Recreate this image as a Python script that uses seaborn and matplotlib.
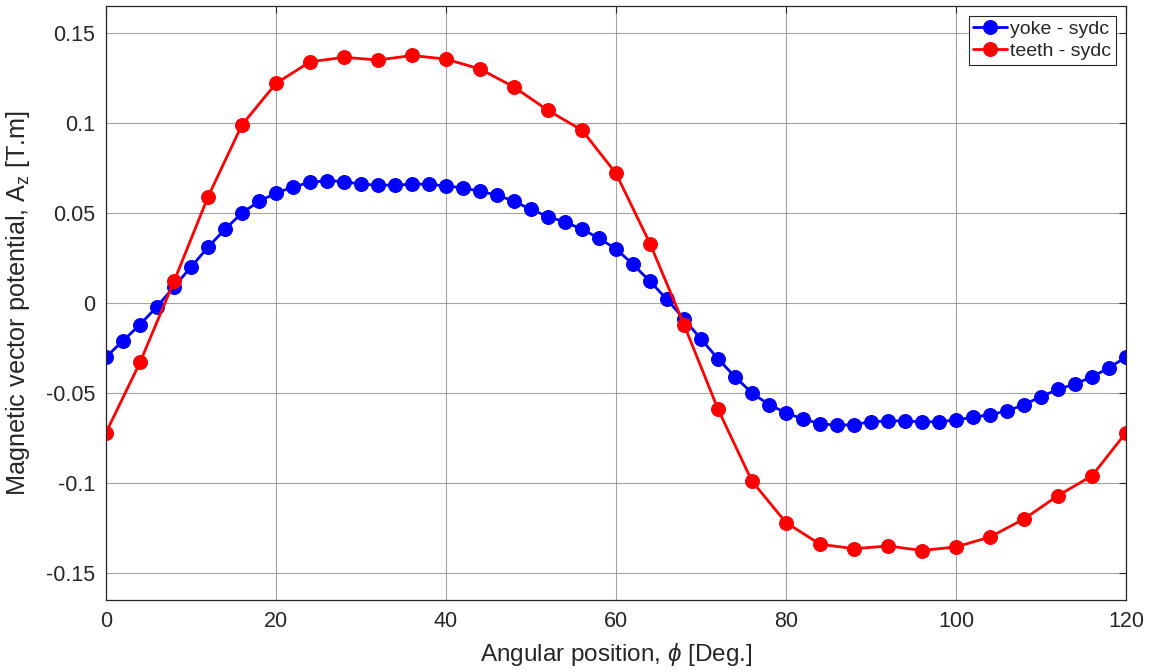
import numpy as np
import pandas as pd
import matplotlib
matplotlib.use("Agg")
import matplotlib.pyplot as plt
import seaborn as sns
from matplotlib.ticker import FormatStrFormatter

yoke_x = list(range(0, 121, 2))
yoke_y = [-0.030, -0.021, -0.012, -0.002, 0.009, 0.020, 0.031, 0.041, 0.050, 0.0565,
          0.061, 0.0645, 0.067, 0.068, 0.0675, 0.066, 0.0655, 0.0655, 0.066, 0.066,
          0.065, 0.064, 0.062, 0.060, 0.0565, 0.052, 0.048, 0.045, 0.041, 0.036,
          0.030, 0.0215, 0.012, 0.002, -0.009, -0.020, -0.031, -0.041, -0.050, -0.0565,
          -0.061, -0.0645, -0.067, -0.068, -0.0675, -0.066, -0.0655, -0.0655, -0.066, -0.066,
          -0.065, -0.0635, -0.062, -0.060, -0.0565, -0.052, -0.048, -0.045, -0.041, -0.036,
          -0.030]

teeth_x = list(range(0, 121, 4))
teeth_y = [-0.072, -0.033, 0.012, 0.059, 0.099, 0.122, 0.134, 0.1365, 0.135, 0.1375,
           0.1355, 0.130, 0.120, 0.107, 0.096, 0.072, 0.033, -0.012, -0.059, -0.099,
           -0.122, -0.134, -0.1365, -0.135, -0.1375, -0.1355, -0.130, -0.120, -0.107, -0.096,
           -0.072]

x_ticks = [0, 20, 40, 60, 80, 100, 120]
y_ticks = [-0.15, -0.1, -0.05, 0, 0.05, 0.1, 0.15]

sns.set_style("white")
plt.rcParams['font.family'] = ['Liberation Sans', 'DejaVu Sans']
plt.rcParams['mathtext.fontset'] = 'custom'
plt.rcParams['mathtext.rm'] = 'Liberation Sans'
plt.rcParams['mathtext.it'] = 'Liberation Sans:italic'
plt.rcParams['mathtext.fallback'] = 'cm'

fig = plt.figure(figsize=(11.51, 6.72), dpi=100)
ax = fig.add_axes([106/1151, 1 - 600/672, (1126 - 106)/1151, (600 - 6)/672])

df_yoke = pd.DataFrame({"x": yoke_x, "y": yoke_y})
df_teeth = pd.DataFrame({"x": teeth_x, "y": teeth_y})

sns.lineplot(data=df_yoke, x="x", y="y", ax=ax, color="#0000ff", marker="o",
             markersize=10, markeredgecolor="#0000ff", linewidth=2, label="yoke - sydc")
sns.lineplot(data=df_teeth, x="x", y="y", ax=ax, color="#ff0000", marker="o",
             markersize=10, markeredgecolor="#ff0000", linewidth=2, label="teeth - sydc")

ax.set_xlim(0, 120)
ax.set_ylim(-0.165, 0.165)
ax.set_xticks(x_ticks)
ax.set_yticks(y_ticks)
ax.yaxis.set_major_formatter(FormatStrFormatter('%g'))
ax.grid(True, color="#8c8c8c", linewidth=0.8, alpha=0.8)
ax.set_axisbelow(True)
ax.tick_params(direction="in", length=5, width=0.8, top=True, right=True,
               labelsize=15.5, colors="#262626", pad=8)
for s in ax.spines.values():
    s.set_color("#262626")
    s.set_linewidth(0.9)

ax.set_xlabel("Angular position, " + r"$\phi$" + " [Deg.]", fontsize=17.5, color="#262626", va="center")
ax.set_ylabel("Magnetic vector potential, A" + r"$_\mathrm{z}$" + " [T.m]", fontsize=18.2,
              color="#262626", va="center")
ax.xaxis.set_label_coords(0.5, (600 - 655) / 594)
ax.yaxis.set_label_coords((18 - 106) / 1020, 0.5)

leg = ax.legend(loc="upper right", fontsize=14, frameon=True, fancybox=False,
                edgecolor="#262626", borderpad=0.25, handlelength=1.7, handletextpad=0.2,
                labelspacing=0.2, borderaxespad=0.5, framealpha=1)
leg.get_frame().set_linewidth(0.8)

fig.savefig("out.png", dpi=100)
